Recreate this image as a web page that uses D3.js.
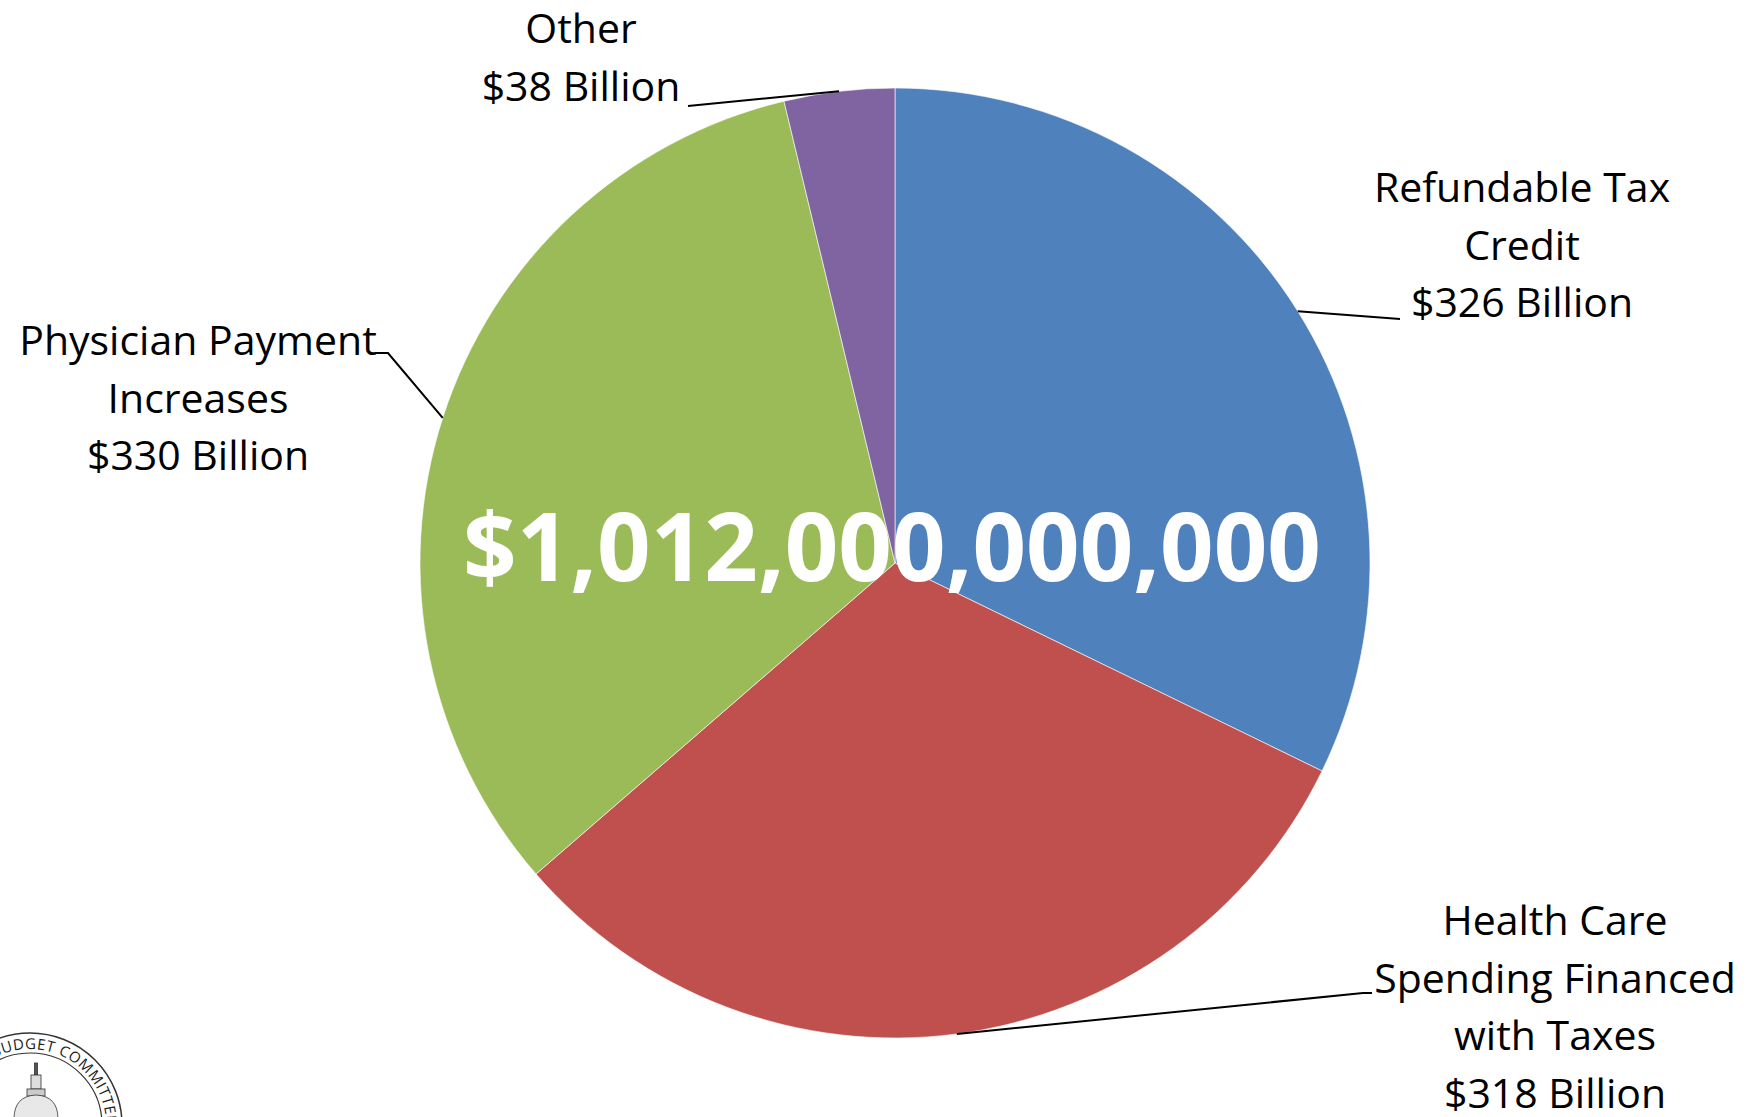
<!DOCTYPE html>
<html>
<head>
<meta charset="utf-8">
<script src="https://cdn.jsdelivr.net/npm/d3@7"></script>
<style>
  body { margin: 0; background: #fff; }
  svg { display: block; font-family: "Open Sans", sans-serif; }
</style>
</head>
<body>
<svg id="chart" width="1750" height="1117"></svg>
<script>
// data
const categories = ["Refundable Tax Credit", "Health Care Spending Financed with Taxes", "Physician Payment Increases", "Other"];
const values = [326, 318, 330, 38]; // $ billion
const labelLines = [
    ["Refundable Tax", "Credit"],
    ["Health Care", "Spending Financed", "with Taxes"],
    ["Physician Payment", "Increases"],
    ["Other"]
];
const colors = ["#4F81BD", "#C0504D", "#9BBB59", "#8064A2"];

// label layout (where Excel put the callouts)
const labelPos = [
    { x: 1522, y: 202, leader: [[1400, 319]] },
    { x: 1555, y: 935, leader: [[1363, 993], [1372, 993]] },
    { x: 198, y: 355, leader: [[388, 353], [375, 353]] },
    { x: 581, y: 43, leader: [[688, 106]] }
];

const CX = 895, CY = 563, R = 475;
const LINE_H = 57.5;

const svg = d3.select("#chart");

const pie = d3.pie().sort(null).value(d => d.value);
const arcs = pie(values.map((v, i) => ({ name: categories[i], value: v, i })));

const arc = d3.arc().innerRadius(0).outerRadius(R);
const edgeArc = d3.arc().innerRadius(R).outerRadius(R);

const g = svg.append("g").attr("transform", `translate(${CX},${CY})`);

g.selectAll("path.slice")
    .data(arcs)
    .join("path")
    .attr("class", "slice")
    .attr("d", arc)
    .attr("fill", d => colors[d.index])
    .attr("stroke", "#fff")
    .attr("stroke-opacity", 0.6)
    .attr("stroke-width", 1);

// leader lines
const line = d3.line();
arcs.forEach((d, i) => {
    const [ex, ey] = edgeArc.centroid(d);
    const pts = [[CX + ex, CY + ey]].concat(labelPos[i].leader);
    svg.append("path")
        .attr("d", line(pts))
        .attr("fill", "none")
        .attr("stroke", "#000")
        .attr("stroke-width", 2);
});

// callout labels
arcs.forEach((d, i) => {
    const lines = labelLines[i].concat([`$${d.data.value} Billion`]);
    const t = svg.append("text")
        .attr("text-anchor", "middle")
        .attr("font-size", 41)
        .attr("fill", "#000");
    lines.forEach((s, k) => {
        t.append("tspan")
            .attr("x", labelPos[i].x)
            .attr("y", labelPos[i].y + k * LINE_H)
            .text(s);
    });
});

// total in the middle
const total = d3.sum(values) * 1e9;
svg.append("text")
    .attr("x", CX - 3)
    .attr("y", CY + 18)
    .attr("text-anchor", "middle")
    .attr("font-size", 95)
    .attr("font-weight", 700)
    .attr("fill", "#fff")
    .attr("textLength", 858)
    .attr("lengthAdjust", "spacingAndGlyphs")
    .text("$" + d3.format(",d")(total));

// budget committee seal, cut off in the corner
const seal = svg.append("g").attr("transform", "translate(30,1125)");
seal.append("circle").attr("r", 92).attr("fill", "none").attr("stroke", "#333").attr("stroke-width", 1.5);
seal.append("circle").attr("r", 72).attr("fill", "none").attr("stroke", "#333").attr("stroke-width", 1.2);
seal.append("path")
    .attr("id", "sealArc")
    .attr("d", d3.arc().innerRadius(76).outerRadius(76).startAngle(-0.5).endAngle(2.4)())
    .attr("fill", "none");
seal.append("text")
    .attr("font-size", 15)
    .attr("fill", "#222")
    .attr("letter-spacing", 0.5)
    .append("textPath")
    .attr("href", "#sealArc")
    .text("BUDGET   COMMITTEE");
// dome
const dome = seal.append("g").attr("transform", "translate(6,0)").attr("fill", "#555").attr("stroke", "#333").attr("stroke-width", 0.8);
dome.append("rect").attr("x", -1.5).attr("y", -62).attr("width", 3).attr("height", 12);
dome.append("rect").attr("x", -5).attr("y", -50).attr("width", 10).attr("height", 14).attr("fill", "#ddd");
dome.append("rect").attr("x", -9).attr("y", -36).attr("width", 18).attr("height", 7).attr("fill", "#ccc");
dome.append("path").attr("d", "M-22,-6 Q-22,-29 0,-30 Q22,-29 22,-6 Z").attr("fill", "#e8e8e8");
dome.append("rect").attr("x", -26).attr("y", -6).attr("width", 52).attr("height", 12).attr("fill", "#bbb");
</script>
</body>
</html>
